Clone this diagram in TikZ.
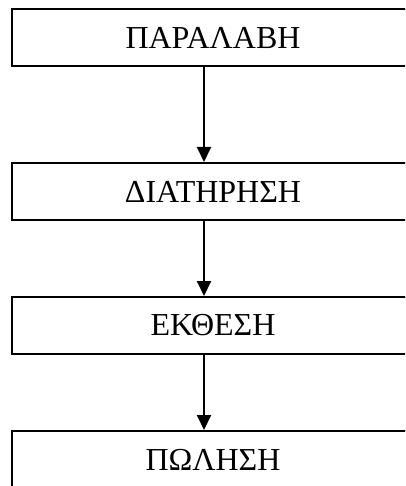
\documentclass[tikz,border=0pt]{standalone}
\usepackage{fontspec}
\setmainfont{Liberation Serif}
\usepackage{tikz}
\usetikzlibrary{arrows.meta}

\begin{document}
\begin{tikzpicture}[x=1pt, y=-1pt, line width=2pt, every node/.style={rectangle, draw, fill=white, minimum width=402pt, minimum height=57pt, inner sep=0pt, font=\fontsize{32}{38}\selectfont}, >={Triangle[length=15pt, width=14pt]}]

    \useasboundingbox (0, 0) rectangle (405, 486);
    \clip (0, 0) rectangle (405, 486);
    \node (receive) at (213, 37.5) {ΠΑΡΑΛΑΒΗ};
    \node (keep) at (213, 191.5) {ΔΙΑΤΗΡΗΣΗ};
    \node (show) at (213, 325.5) {ΕΚΘΕΣΗ};
    \node (sell) at (213, 459.5) {ΠΩΛΗΣΗ};

    \draw[->] ([xshift=-9pt]receive.south) -- ([xshift=-9pt]keep.north);
    \draw[->] ([xshift=-9pt]keep.south) -- ([xshift=-9pt]show.north);
    \draw[->] ([xshift=-9pt]show.south) -- ([xshift=-9pt]sell.north);

\end{tikzpicture}
\end{document}
